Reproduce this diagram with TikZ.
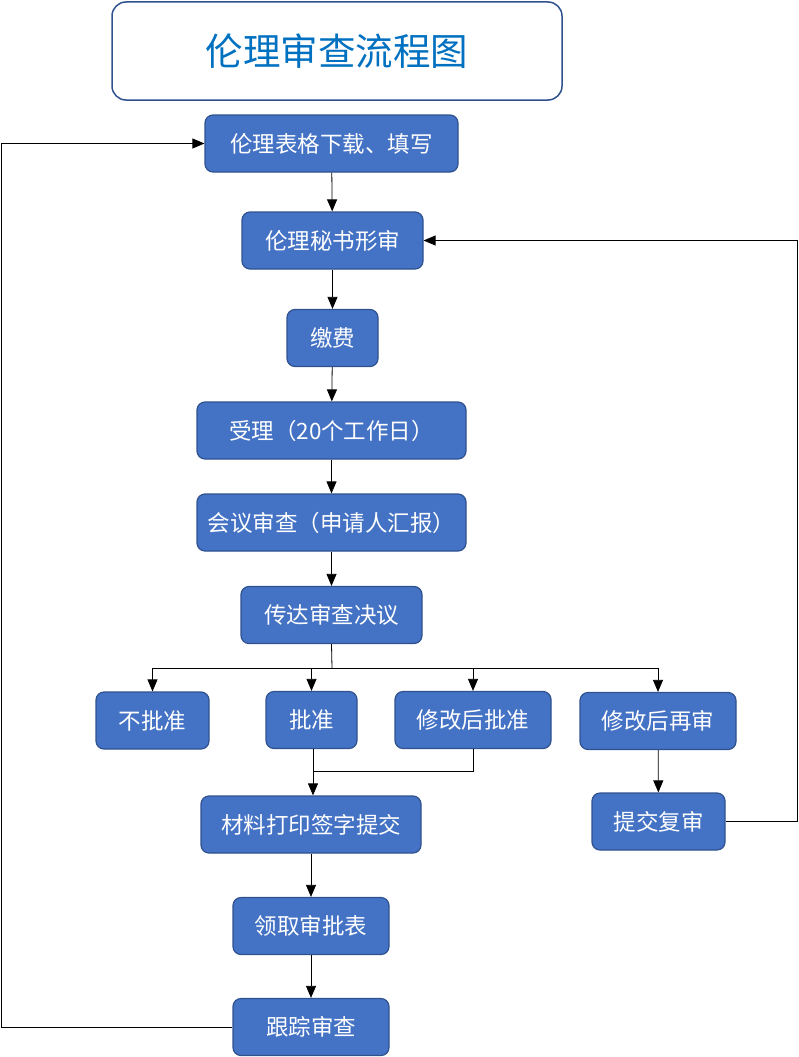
\documentclass[tikz,border=0pt]{standalone}
\usepackage{fontspec}
\newfontfamily\cjk{Noto Sans CJK SC}
\usetikzlibrary{arrows.meta}
\definecolor{boxfill}{HTML}{4472C4}
\definecolor{boxline}{HTML}{2F528F}
\definecolor{titleblue}{HTML}{0070C0}

\begin{document}
\begin{tikzpicture}[x=1pt, y=-1pt,
  stepbox/.style={draw=boxline, line width=1.2pt, fill=boxfill, rounded corners=8pt,
                  text=white, inner sep=0pt, minimum height=57pt,
                  font=\cjk\fontsize{22.5}{26}\selectfont},
  flow/.style={-{Triangle[width=10pt,length=12pt]}, line width=0.8pt},
  plain/.style={line width=0.8pt}]
\useasboundingbox (0,0) rectangle (799,1057);

\node (title) [draw=boxline, line width=1.5pt, rounded corners=14pt, minimum width=450pt,
               minimum height=98pt, text=titleblue, font=\cjk\fontsize{37.5}{42}\selectfont]
      at (337,51) {伦理审查流程图};

\node (form)    [stepbox, minimum width=253pt] at (331.5,143.5) {伦理表格下载、填写};
\node (check)   [stepbox, minimum width=181pt] at (332.5,240.5) {伦理秘书形审};
\node (fee)     [stepbox, minimum width=91pt]  at (332.5,338)   {缴费};
\node (accept)  [stepbox, minimum width=269pt] at (331.5,430.5) {受理（20个工作日）};
\node (meeting) [stepbox, minimum width=269pt] at (331.5,522.5) {会议审查（申请人汇报）};
\node (notify)  [stepbox, minimum width=181pt] at (331.5,615)   {传达审查决议};

\node (reject)  [stepbox, minimum width=113pt] at (152.5,720.5) {不批准};
\node (approve) [stepbox, minimum width=91pt]  at (311.5,720)   {批准};
\node (modok)   [stepbox, minimum width=156pt] at (473,720)     {修改后批准};
\node (modre)   [stepbox, minimum width=156pt] at (658,721)     {修改后再审};

\node (print)   [stepbox, minimum width=220pt] at (311,824.5)   {材料打印签字提交};
\node (resub)   [stepbox, minimum width=133pt] at (658.5,821.5) {提交复审};
\node (table)   [stepbox, minimum width=156pt] at (311,926)     {领取审批表};
\node (track)   [stepbox, minimum width=156pt] at (311,1027)    {跟踪审查};

% main column
\draw[flow] (form) -- (check);
\draw[flow] (check) -- (fee);
\draw[flow] (fee) -- (accept);
\draw[flow] (accept) -- (meeting);
\draw[flow] (meeting) -- (notify);

% decision branches
\coordinate (split) at (332,668);
\draw[plain] (notify.south) -- (split);
\draw[flow] (split) -| (reject.north);
\draw[flow] (split) -| (approve.north);
\draw[flow] (split) -| (modok.north);
\draw[flow] (split) -| (modre.north);

% merge into printing
\coordinate (merge) at (313,771);
\draw[plain] (modok.south) |- (merge);
\draw[flow] (approve.south -| merge) -- (print.north -| merge);
\draw[flow] (modre) -- (resub);
\draw[flow] (print) -- (table);
\draw[flow] (table) -- (track);

% loops back
\draw[flow] (resub.east) -- (797,821.5) |- (check.east);
\draw[flow] (track.west) -- (1,1027) |- (form.west);
\end{tikzpicture}
\end{document}
